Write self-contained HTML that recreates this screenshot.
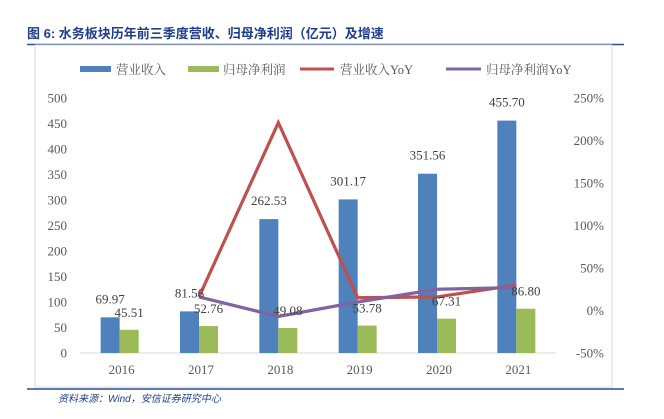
<!DOCTYPE html>
<html><head><meta charset="utf-8"><style>
body{margin:0;background:#fff;width:664px;height:414px;overflow:hidden;font-family:"Liberation Serif","Noto Serif CJK SC",serif;}
</style></head><body>
<svg id="c" width="664" height="414" xmlns="http://www.w3.org/2000/svg">
<text x="27" y="38" font-family="Liberation Sans,'Noto Sans CJK SC',sans-serif" font-weight="bold" font-size="13" fill="#1f3d8a">图 6:  水务板块历年前三季度营收、归母净利润（亿元）及增速</text>
<line x1="27" y1="44.5" x2="624" y2="44.5" stroke="#2a4b96" stroke-width="1.5"/>
<rect x="35" y="45" width="577" height="342" fill="none" stroke="#d9d9d9"/>
<line x1="27" y1="389" x2="624" y2="389" stroke="#2a4b96" stroke-width="1.5"/>
<text x="58" y="402" font-family="Liberation Sans,'Noto Sans CJK SC',sans-serif" font-style="italic" font-size="10" fill="#1f3d8a">资料来源：Wind，安信证券研究中心</text>
<g font-size="12.5" fill="#595959">
<rect x="80" y="66" width="31" height="6" fill="#4f81bd"/>
<text x="116" y="74">营业收入</text>
<rect x="188" y="66" width="31" height="6" fill="#9bbb59"/>
<text x="223" y="74">归母净利润</text>
<line x1="300" y1="69" x2="334" y2="69" stroke="#c0504d" stroke-width="3"/>
<text x="340" y="74">营业收入YoY</text>
<line x1="446" y1="69" x2="481" y2="69" stroke="#8064a2" stroke-width="3"/>
<text x="486" y="74">归母净利润YoY</text>
</g>
<g id="plot"></g>
</svg>
<script>
const categories=["2016","2017","2018","2019","2020","2021"];
const revenue=[69.97,81.56,262.53,301.17,351.56,455.70];
const profit=[45.51,52.76,49.08,53.78,67.31,86.80];
const revenueYoY=[null,16,221,15,16,30];
const profitYoY=[null,16,-7,10,25,27];
const leftTicks=[0,50,100,150,200,250,300,350,400,450,500];
const rightTicks=[-50,0,50,100,150,200,250];
const NS="http://www.w3.org/2000/svg";
const g=document.getElementById('plot');
const x0=80,x1=556,yTop=98,yBot=353;
const band=(x1-x0)/categories.length;
const xc=i=>x0+band*(i+0.5);
const yL=v=>yBot-(v/500)*(yBot-yTop);
const yR=v=>yBot-((v+50)/300)*(yBot-yTop);
function el(t,a,txt){const e=document.createElementNS(NS,t);for(const k in a)e.setAttribute(k,a[k]);if(txt!==undefined)e.textContent=txt;g.appendChild(e);return e;}
leftTicks.forEach(v=>{const e=el('text',{x:67,y:yL(v)+4.5,'text-anchor':'end','font-size':13,fill:'#595959'},v);

});
rightTicks.forEach(v=>{const e=el('text',{x:604,y:yR(v)+4.5,'text-anchor':'end','font-size':13,fill:'#595959'},v+'%');

});
const ax=el('line',{x1:x0,y1:yBot,x2:x1,y2:yBot,stroke:'#d9d9d9'});


const bw=19;
categories.forEach((c,i)=>{
 const cx=xc(i);
 const t=el('text',{x:cx+2,y:374,'text-anchor':'middle','font-size':13,fill:'#595959'},c);
 
 
 const b=el('rect',{x:cx-bw,y:yL(revenue[i]),width:bw,height:yBot-yL(revenue[i]),fill:'#4f81bd'});
 
 
 const p=el('rect',{x:cx,y:yL(profit[i]),width:bw,height:yBot-yL(profit[i]),fill:'#9bbb59'});
 
 
});
function line(data,color,name){
 const pts=[];data.forEach((v,i)=>{if(v!==null)pts.push(xc(i)+','+yR(v));});
 const l=el('polyline',{points:pts.join(' '),fill:'none',stroke:color,'stroke-width':3.2,'stroke-linejoin':'miter'});
 
 
}
line(revenueYoY,'#c0504d','line-revenue-yoy');
line(profitYoY,'#8064a2','line-profit-yoy');
categories.forEach((c,i)=>{
 const cx=xc(i);
 const a=el('text',{x:cx-bw/2,y:yL(revenue[i])-14,'text-anchor':'middle','font-size':13,fill:'#404040'},revenue[i].toFixed(2));
 
 
 const b=el('text',{x:cx+bw/2,y:yL(profit[i])-13,'text-anchor':'middle','font-size':13,fill:'#404040'},profit[i].toFixed(2));
 
 
});
</script>
</body></html>
